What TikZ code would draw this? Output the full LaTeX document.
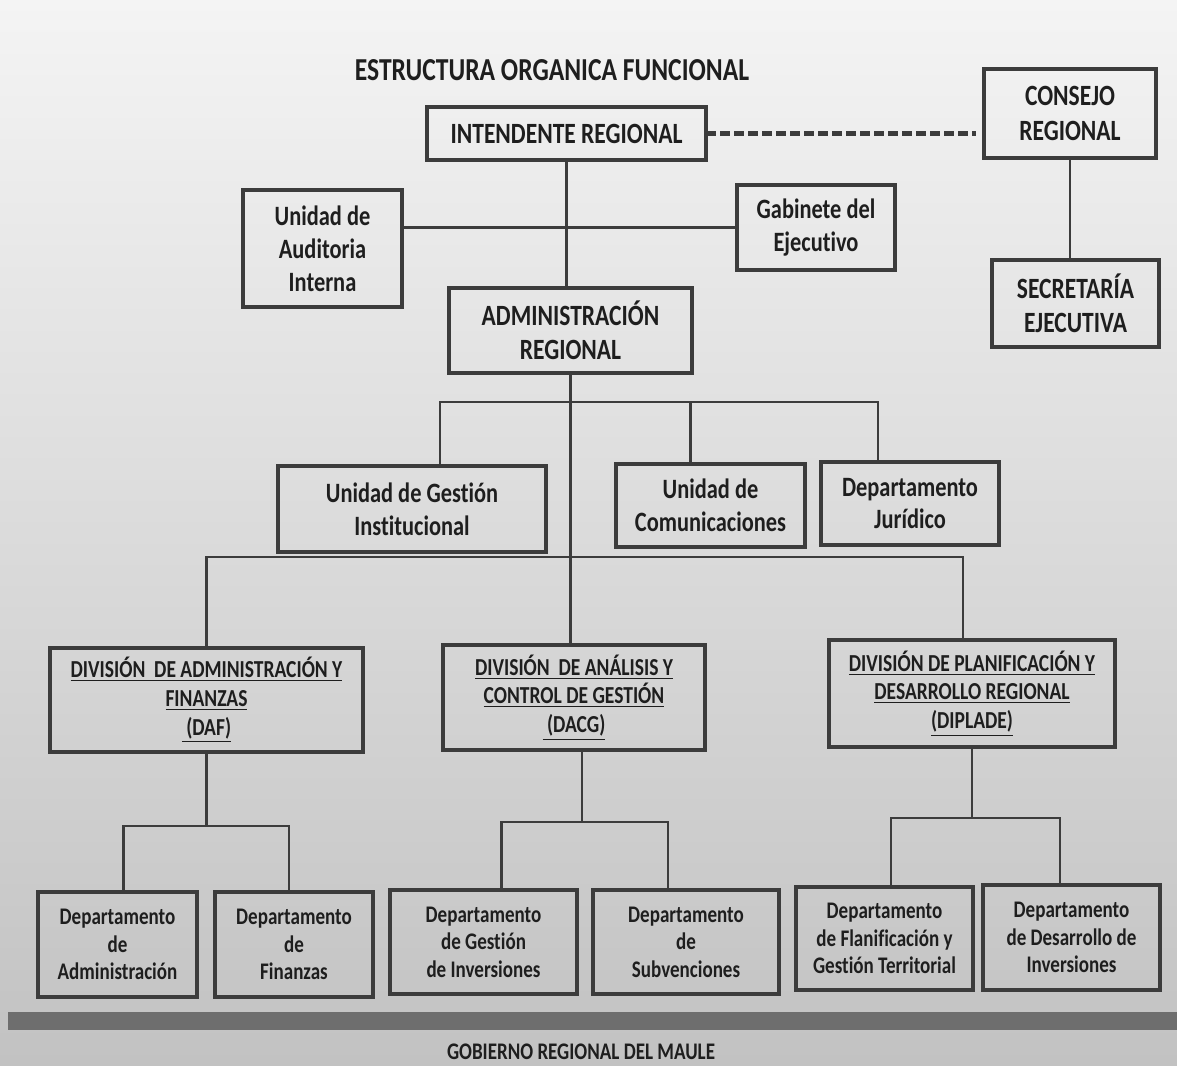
\documentclass[tikz,border=0pt]{standalone}
\usepackage{fontspec}
\setmainfont{Carlito}[FakeStretch=0.8, Ligatures=NoCommon]
\definecolor{ink}{HTML}{1E1E1E}
\definecolor{boxline}{HTML}{3C3C3C}
\definecolor{bgtop}{HTML}{F4F4F4}
\definecolor{bgmid}{HTML}{E3E3E3}
\definecolor{bgbot}{HTML}{C2C2C2}
\definecolor{band}{HTML}{6E6E6E}
\tikzset{
  orgbox/.style={draw=boxline, line width=2.2pt, align=center, inner sep=0pt, outer sep=0pt, text=ink,
    font=\bfseries\fontsize{14.7}{17.2}\selectfont},
  midbox/.style={orgbox, font=\bfseries\fontsize{14}{16.4}\selectfont},
  divbox/.style={orgbox, font=\bfseries\fontsize{12.2}{14.4}\selectfont},
  depbox/.style={orgbox, font=\bfseries\fontsize{11.9}{13.8}\selectfont},
  link/.style={draw=boxline, line width=1.4pt},
}
\begin{document}
\begin{tikzpicture}[x=0.5pt, y=-0.5pt]
% background and footer band
\shade[top color=bgtop, middle color=bgmid, bottom color=bgbot] (0,0) rectangle (1177,1065);
\fill[band] (8,1012) rectangle (1177,1030);
% title
\node[text=ink, font=\bfseries\fontsize{16}{18}\selectfont] (title) at (552,70) {ESTRUCTURA ORGANICA FUNCIONAL};
% top level
\node[orgbox, minimum width=139.5pt, minimum height=26.5pt] (intendente) at (566.5,133.5) {INTENDENTE REGIONAL};
\node[orgbox, minimum width=86pt, minimum height=44.5pt] (consejo) at (1070,113.5) {CONSEJO\\REGIONAL};
\node[midbox, minimum width=79.5pt, minimum height=58.5pt] (auditoria) at (322.5,248.5) {Unidad de\\Auditoria\\Interna};
\node[midbox, minimum width=79pt, minimum height=42.5pt] (gabinete) at (816,227.5) {Gabinete del\\Ejecutivo};
\node[orgbox, minimum width=121.5pt, minimum height=42.5pt] (admin) at (570.5,330.5) {ADMINISTRACIÓN\\REGIONAL};
\node[orgbox, minimum width=83.5pt, minimum height=43.5pt] (secretaria) at (1075.5,303.5) {SECRETARÍA\\EJECUTIVA};
% units under the administration
\node[midbox, minimum width=134pt, minimum height=43pt] (ugi) at (412,509) {Unidad de Gestión\\Institucional};
\node[midbox, minimum width=94.5pt, minimum height=41.5pt] (ucom) at (710.5,505.5) {Unidad de\\Comunicaciones};
\node[midbox, minimum width=89pt, minimum height=41.5pt] (djur) at (910,503.5) {Departamento\\Jurídico};
% divisions
\node[divbox, minimum width=156.5pt, minimum height=52pt] (daf) at (206.5,700) {\underline{DIVISIÓN~ DE ADMINISTRACIÓN Y}\\\underline{FINANZAS}\\\underline{\ (DAF)}};
\node[divbox, minimum width=131pt, minimum height=52.5pt] (dacg) at (574,697.5) {\underline{DIVISIÓN~ DE ANÁLISIS Y}\\\underline{CONTROL DE GESTIÓN}\\\underline{\ (DACG)}};
\node[divbox, minimum width=143pt, minimum height=53.5pt] (diplade) at (972,693.5) {\underline{DIVISIÓN DE PLANIFICACIÓN Y}\\\underline{DESARROLLO REGIONAL}\\\underline{(DIPLADE)}};
% departments
\node[depbox, minimum width=79.5pt, minimum height=52.5pt] (dadm) at (117.5,944.5) {Departamento\\de\\Administración};
\node[depbox, minimum width=79pt, minimum height=52.5pt] (dfin) at (294,944.5) {Departamento\\de\\Finanzas};
\node[depbox, minimum width=93.5pt, minimum height=52pt] (dgi) at (483.5,942) {Departamento\\de Gestión\\de Inversiones};
\node[depbox, minimum width=93pt, minimum height=52pt] (dsub) at (686,942) {Departamento\\de\\Subvenciones};
\node[depbox, minimum width=88.5pt, minimum height=51.5pt] (dpgt) at (884.5,938.5) {Departamento\\de Flanificación y\\Gestión Territorial};
\node[depbox, minimum width=88.5pt, minimum height=52.5pt] (ddi) at (1071.5,937.5) {Departamento\\de Desarrollo de\\Inversiones};
% footer
\node[text=ink, font=\bfseries\fontsize{11.9}{14}\selectfont] (footer) at (581,1052) {GOBIERNO REGIONAL DEL MAULE};
% connectors of the top level
\draw[link, line width=2.2pt, dash pattern=on 5pt off 2pt, shorten >=4pt] (intendente.east) -- (consejo.west |- intendente.east);
\draw[link] (consejo.south) -- (consejo.south |- secretaria.north);
\draw[link] (auditoria.east |- gabinete.west) -- (gabinete.west);
\draw[link] (intendente.south) -- (intendente.south |- admin.north);
\draw[link] (admin.south) -- (admin.south |- dacg.north);
% units and divisions
\draw[link] ([xshift=14pt]ugi.north) -- ++(0,-64) -| ([xshift=-16pt]djur.north);
\draw[link] ([xshift=-10pt]ucom.north) -- ++(0,-62);
\draw[link] (daf.north) -- ++(0,-91) -| ([xshift=-4.5pt]diplade.north);
% departments
\draw[link] (daf.south) -- ++(0,74);
\draw[link] ([xshift=3pt]dadm.north) -- ++(0,-66) -| ([xshift=-2.5pt]dfin.north);
\draw[link] ([xshift=4pt]dacg.south) -- ++(0,72);
\draw[link] ([xshift=9pt]dgi.north) -- ++(0,-68) -| ([xshift=-9pt]dsub.north);
\draw[link] (diplade.south) -- ++(0,71);
\draw[link] ([xshift=3.25pt]dpgt.north) -- ++(0,-69) -| ([xshift=-5.75pt]ddi.north);
\end{tikzpicture}
\end{document}
